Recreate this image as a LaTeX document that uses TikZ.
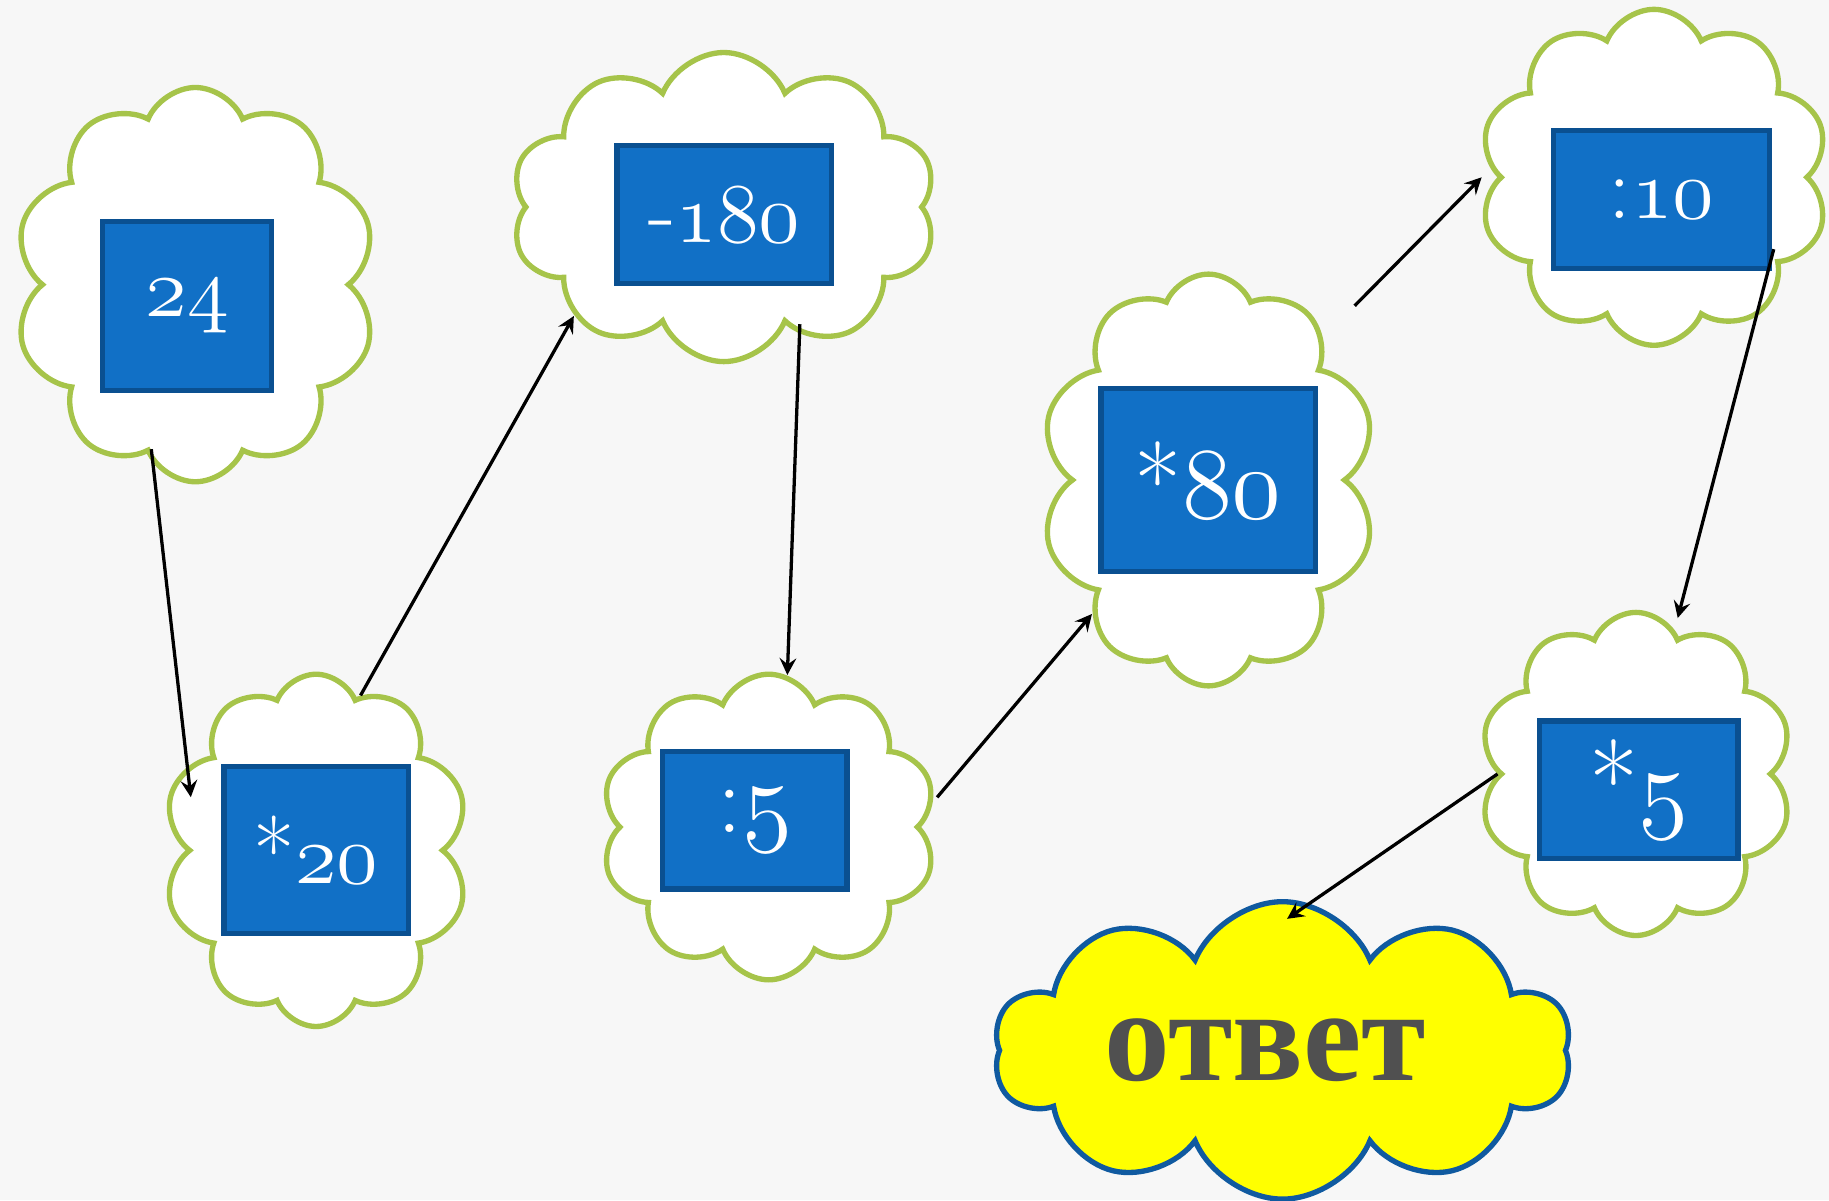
\documentclass[tikz,border=0pt]{standalone}
\usepackage{fontspec}
\newfontfamily\answerfont{Liberation Serif}
\usetikzlibrary{shapes.symbols,arrows,calc}
\definecolor{leaf}{RGB}{166,196,74}
\definecolor{boxblue}{RGB}{17,112,198}
\definecolor{boxedge}{RGB}{10,80,145}
\definecolor{sky}{RGB}{16,90,160}
\definecolor{ink}{RGB}{80,80,80}
\definecolor{paper}{RGB}{247,247,247}
\definecolor{sun}{RGB}{255,255,0}

\begin{document}
\begin{tikzpicture}[x=0.1mm,y=-0.1mm,
    puff/.style={cloud, cloud puffs=10, cloud puff arc=135, cloud ignores aspect,
        draw=leaf, line width=1.3pt, fill=white, inner sep=0pt},
    tag/.style={rectangle, draw=boxedge, line width=1.3pt, fill=boxblue,
        text=white, inner sep=0pt, font=\fontsize{22}{22}\selectfont},
    >=stealth]

    \fill[paper] (0,0) rectangle (1568,1029);
    \useasboundingbox (0,0) rectangle (1568,1029);

    % clouds
    \node[puff,minimum width=31.1mm,minimum height=33.8mm] (A) at (167.5,244) {};
    \node[puff,minimum width=36.5mm,minimum height=26.5mm] (B) at (620.5,177.5) {};
    \node[puff,minimum width=26.2mm,minimum height=30.2mm] (C) at (271,729) {};
    \node[puff,minimum width=28.8mm,minimum height=26.2mm] (D) at (659,709) {};
    \node[puff,minimum width=28.8mm,minimum height=35.3mm] (E) at (1036,411.5) {};
    \node[puff,minimum width=30.0mm,minimum height=28.8mm] (F) at (1418,152) {};
    \node[puff,minimum width=26.9mm,minimum height=27.7mm] (G) at (1402.5,663.5) {};
    \node[puff,cloud puffs=10,draw=sky,fill=sun,minimum width=49.5mm,
        minimum height=25.5mm,text=ink,font=\answerfont\bfseries\fontsize{32}{32}\selectfont]
        (Ans) at (1099.5,900.5) {\hspace*{-3mm}ответ};

    % boxes
    \node[tag,minimum width=14.5mm,minimum height=14.5mm] (Ab) at (160.5,262.5) {$\mathnormal{24}$};
    \node[tag,minimum width=18.4mm,minimum height=11.8mm] (Bb) at (621,184) {-$\mathnormal{180}$};
    \node[tag,minimum width=15.8mm,minimum height=14.3mm] (Cb) at (271,728.5) {*$\mathnormal{20}$};
    \node[tag,minimum width=15.8mm,minimum height=11.8mm,font=\fontsize{24}{24}\selectfont]
        (Db) at (647,703) {:$\mathnormal{5}$};
    \node[tag,minimum width=18.4mm,minimum height=15.7mm,font=\fontsize{25}{25}\selectfont]
        (Eb) at (1036,411.5) {*$\mathnormal{80}$};
    \node[tag,minimum width=18.5mm,minimum height=11.8mm] (Fb) at (1424.5,171) {:$\mathnormal{10}$};
    \node[tag,minimum width=17.0mm,minimum height=11.8mm,font=\fontsize{26}{26}\selectfont]
        (Gb) at (1405,677) {*$\mathnormal{5}$};

    \draw[->,line width=0.8pt] ($(A)!0.95!(A.-105.6)$) -- ($(C)!0.86!(C.157.5)$);
    \draw[->,line width=0.8pt] (C.74.1) -- (B.-144.7);
    \draw[->,line width=0.8pt] ($(B)!0.9!(B.-57.9)$) -- (D.83.9);
    \draw[->,line width=0.8pt] ($(D)!1.02!(D.10.2)$) -- (E.-131.8);
    \draw[->,line width=0.8pt] ($(E)!1.26!(E.50.8)$) -- ($(F)!1.1!(F.180)$);
    \draw[->,line width=0.8pt] ($(F)!0.86!(F.-31.2)$) -- ($(G)!1.08!(G.75.4)$);
    \draw[->,line width=0.8pt] (G.180) -- ($(Ans)!0.87!(Ans.88)$);
\end{tikzpicture}
\end{document}
